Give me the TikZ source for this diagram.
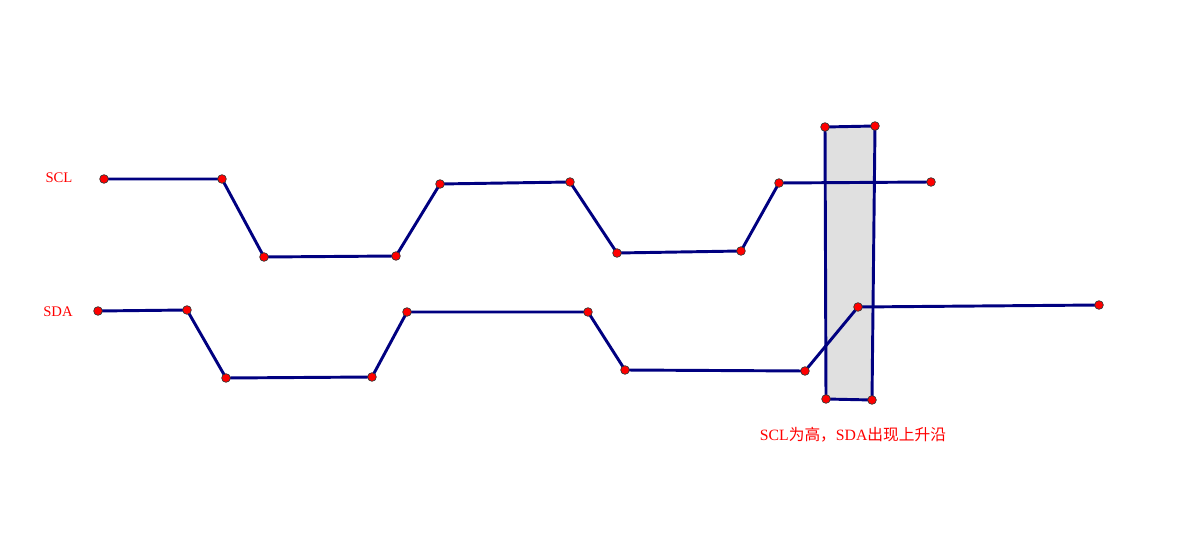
\documentclass[tikz,border=0pt]{standalone}
\usepackage{fontspec}
\setmainfont{Liberation Serif}
\newfontfamily\cjk{Noto Sans CJK SC}
\begin{document}
\begin{tikzpicture}[x=0.75pt,y=-0.75pt,
  sig/.style={draw={rgb,255:red,0;green,0;blue,128},line width=2.2pt,line join=round},
  pt/.style={circle,fill=red,draw=black!80,line width=0.5pt,inner sep=0pt,minimum size=6.5pt},
  lbl/.style={text=red,font=\fontsize{11}{13}\selectfont},
  note/.style={text=red,font=\fontsize{11.8}{14}\selectfont}]
\useasboundingbox (0,0) rectangle (1177,534);
% box
\coordinate (r1) at (825,127);
\coordinate (r2) at (875,126);
\coordinate (r3) at (872,400);
\coordinate (r4) at (826,399);
\fill[fill={rgb,255:red,224;green,224;blue,224}] (r1) -- (r2) -- (r3) -- (r4) -- cycle;
\draw[sig] (r1) -- (r2) -- (r3) -- (r4) -- cycle;
% SCL
\coordinate (c1) at (104,179);
\coordinate (c2) at (222,179);
\coordinate (c3) at (264,257);
\coordinate (c4) at (396,256);
\coordinate (c5) at (440,184);
\coordinate (c6) at (570,182);
\coordinate (c7) at (617,253);
\coordinate (c8) at (741,251);
\coordinate (c9) at (779,183);
\coordinate (c10) at (931,182);
\draw[sig] (c1) -- (c2) -- (c3) -- (c4) -- (c5) -- (c6) -- (c7) -- (c8) -- (c9) -- (c10);
% SDA
\coordinate (d1) at (98,311);
\coordinate (d2) at (187,310);
\coordinate (d3) at (226,378);
\coordinate (d4) at (372,377);
\coordinate (d5) at (407,312);
\coordinate (d6) at (588,312);
\coordinate (d7) at (625,370);
\coordinate (d8) at (805,371);
\coordinate (d9) at (858,307);
\coordinate (d10) at (1099,305);
\draw[sig] (d1) -- (d2) -- (d3) -- (d4) -- (d5) -- (d6) -- (d7) -- (d8) -- (d9) -- (d10);
% points
\foreach \p in {r1,r2,r3,r4,c1,c2,c3,c4,c5,c6,c7,c8,c9,c10,d1,d2,d3,d4,d5,d6,d7,d8,d9,d10}
  \node[pt] at (\p) {};
% labels
\node[lbl] (lscl) at (59,178) {SCL};
\node[lbl] (lsda) at (58,312) {SDA};
\node[note] (note) at (853,435) {SCL{\cjk 为高，}SDA{\cjk 出现上升沿}};
\end{tikzpicture}
\end{document}
